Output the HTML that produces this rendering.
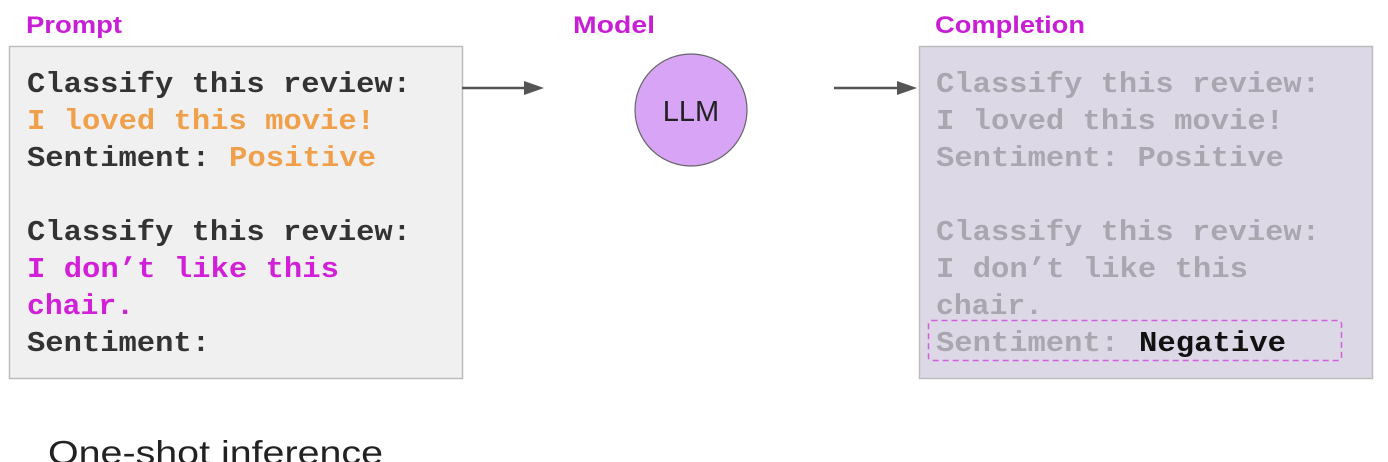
<!DOCTYPE html>
<html><head><meta charset="utf-8"><style>
html,body{margin:0;padding:0;background:#fff;width:1388px;height:462px;overflow:hidden}
svg{display:block}
.m{font-family:"Liberation Mono",monospace;font-weight:bold;font-size:29px}
.h{font-family:"Liberation Sans",sans-serif;font-weight:bold;font-size:24px;fill:#c81fd6}
</style></head><body>
<svg width="1388" height="462" viewBox="0 0 1388 462">
<text class="h" x="26" y="33" textLength="96" lengthAdjust="spacingAndGlyphs">Prompt</text>
<text class="h" x="573" y="33" textLength="82" lengthAdjust="spacingAndGlyphs">Model</text>
<text class="h" x="935" y="33" textLength="150" lengthAdjust="spacingAndGlyphs">Completion</text>
<rect x="9.5" y="46.5" width="453" height="332" fill="#f0f0f0" stroke="#bdbdbd" stroke-width="1.5"/>
<rect x="919.5" y="46.5" width="453" height="332" fill="#ddd8e6" stroke="#bdbdbd" stroke-width="1.5"/>
<g class="m">
<text x="27" y="92" fill="#333" textLength="384" lengthAdjust="spacingAndGlyphs">Classify this review:</text>
<text x="27" y="129" fill="#f0a04a" textLength="348" lengthAdjust="spacingAndGlyphs">I loved this movie!</text>
<text x="27" y="166" fill="#333" textLength="183" lengthAdjust="spacingAndGlyphs">Sentiment:</text>
<text x="229" y="166" fill="#f0a04a" textLength="147" lengthAdjust="spacingAndGlyphs">Positive</text>
<text x="27" y="240" fill="#333" textLength="384" lengthAdjust="spacingAndGlyphs">Classify this review:</text>
<text x="27" y="277" fill="#d21fd8" textLength="312" lengthAdjust="spacingAndGlyphs">I don’t like this</text>
<text x="27" y="314" fill="#d21fd8" textLength="107" lengthAdjust="spacingAndGlyphs">chair.</text>
<text x="27" y="351" fill="#333" textLength="183" lengthAdjust="spacingAndGlyphs">Sentiment:</text>
</g>
<g class="m" fill="#aaa6b0">
<text x="936" y="92" textLength="384" lengthAdjust="spacingAndGlyphs">Classify this review:</text>
<text x="936" y="129" textLength="348" lengthAdjust="spacingAndGlyphs">I loved this movie!</text>
<text x="936" y="166" textLength="348" lengthAdjust="spacingAndGlyphs">Sentiment: Positive</text>
<text x="936" y="240" textLength="384" lengthAdjust="spacingAndGlyphs">Classify this review:</text>
<text x="936" y="277" textLength="312" lengthAdjust="spacingAndGlyphs">I don’t like this</text>
<text x="936" y="314" textLength="107" lengthAdjust="spacingAndGlyphs">chair.</text>
<text x="936" y="351" textLength="183" lengthAdjust="spacingAndGlyphs">Sentiment:</text>
<text x="1139" y="351" fill="#111" textLength="147" lengthAdjust="spacingAndGlyphs">Negative</text>
</g>
<rect x="928.5" y="320.5" width="413" height="40" rx="3" fill="none" stroke="#d25ee0" stroke-width="1.5" stroke-dasharray="6,4"/>
<line x1="462" y1="88" x2="528" y2="88" stroke="#555" stroke-width="2.5"/>
<polygon points="544,88 524,81 524,95" fill="#555"/>
<line x1="834" y1="88" x2="900" y2="88" stroke="#555" stroke-width="2.5"/>
<polygon points="917,88 897,81 897,95" fill="#555"/>
<circle cx="691" cy="110" r="56" fill="#d8a4f6" stroke="#666" stroke-width="1.2"/>
<text x="691" y="121" text-anchor="middle" font-family="Liberation Sans,sans-serif" font-size="29" fill="#222">LLM</text>
<text x="48" y="464" font-family="Liberation Sans,sans-serif" font-size="33" fill="#222" textLength="335" lengthAdjust="spacingAndGlyphs">One-shot inference</text>
</svg>
</body></html>
